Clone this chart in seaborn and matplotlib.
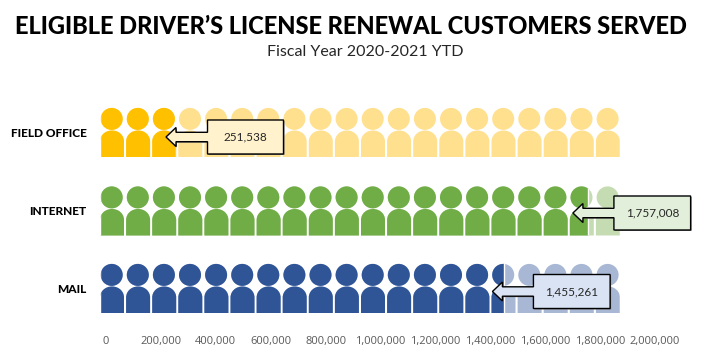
import numpy as np
import pandas as pd
import seaborn as sns
from matplotlib import pyplot as plt
from matplotlib.path import Path
from matplotlib.patches import PathPatch
from matplotlib.transforms import Affine2D

channels = ["FIELD OFFICE", "INTERNET", "MAIL"]
served = [251538, 1757008, 1455261]
# where the dark fill stops in the picture, the field office one runs past its value
fill_ends = [273700, 1757008, 1455261]
full_row = [1872500, 1872500, 1872500]
served_labels = ["251,538", "1,757,008", "1,455,261"]
tick_values = [0, 200000, 400000, 600000, 800000, 1000000, 1200000, 1400000,
               1600000, 1800000, 2000000]
tick_labels = ["0", "200,000", "400,000", "600,000", "800,000", "1,000,000", "1,200,000",
               "1,400,000", "1,600,000", "1,800,000", "2,000,000"]

dark = ["#FFC000", "#70AD47", "#2F5597"]
light = ["#FFE08F", "#C5DCB2", "#A7B7D4"]
box = ["#FFF2CC", "#E2EFDA", "#DAE3F3"]

W, H = 706, 364
# pixels from the top left, same as the reference
px = Affine2D().scale(1, -1).translate(0, H)


def person_row(top, n=20, x0=100, pitch=26.1):
    verts, codes = [], []
    for i in range(n):
        left = x0 + i * pitch
        head = Path.circle((left + 11.7, top + 10.9), 11)
        verts += list(head.vertices)
        codes += list(head.codes)
        bottom = top + 49
        neck = top + 22.5
        r = 12
        verts += [(left, bottom), (left, neck + 11),
                  (left, neck + 5), (left + 5, neck), (left + r, neck),
                  (left + 2 * r - 5, neck), (left + 2 * r, neck + 5), (left + 2 * r, neck + 11),
                  (left + 2 * r, bottom), (left, bottom)]
        codes += [Path.MOVETO, Path.LINETO,
                  Path.CURVE4, Path.CURVE4, Path.CURVE4,
                  Path.CURVE4, Path.CURVE4, Path.CURVE4,
                  Path.LINETO, Path.CLOSEPOLY]
    return Path(verts, codes)


def callout(tip_x, mid_y, box_x0, box_x1, half_h):
    head_x = tip_x + 10
    return Path([
        (tip_x, mid_y), (head_x, mid_y - 9.5), (head_x, mid_y - 4.7), (box_x0, mid_y - 4.7),
        (box_x0, mid_y - half_h), (box_x1, mid_y - half_h), (box_x1, mid_y + half_h),
        (box_x0, mid_y + half_h), (box_x0, mid_y + 4.7), (head_x, mid_y + 4.7),
        (head_x, mid_y + 9.5), (tip_x, mid_y),
    ], closed=True)


sns.set_theme(style="white")
plt.rcParams["font.family"] = ["Lato", "DejaVu Sans"]

fig = plt.figure(figsize=(W / 100, H / 100), dpi=100)
ax = fig.add_axes([100 / W, (H - 330) / H, 600 / W, 250 / H])

tab = pd.DataFrame({"channel": channels, "full": full_row, "filled": fill_ends})
sns.barplot(data=tab, y="channel", x="full", hue="channel", palette=light,
            width=0.9, legend=False, ax=ax, saturation=1)
sns.barplot(data=tab, y="channel", x="filled", hue="channel", palette=dark,
            width=0.9, legend=False, ax=ax, saturation=1)

ax.set_xlim(0, 600 / 277.7e-6)
ax.set_ylim((330 - 132.5) / 78, (80 - 132.5) / 78)
ax.set_xlabel("")
ax.set_ylabel("")
ax.set_xticks([])
ax.set_yticks(range(3))
ax.set_yticklabels(channels, fontsize=8.6, fontweight="black", color="black")
ax.tick_params(axis="y", length=0, pad=9.7)
sns.despine(ax=ax, left=True, bottom=True)

# the bars only show through the person shapes
tops = [108, 186.5, 264]
for cont in ax.containers:
    for bar in cont.patches:
        row = int(round(bar.get_y() + bar.get_height() / 2))
        bar.set_clip_path(person_row(tops[row]), px)

# tick labels sit on their own slightly narrower scale
ax2 = ax.twiny()
ax2.set_xlim(-6 / 274.5e-6, 594 / 274.5e-6)
ax2.xaxis.set_ticks_position("bottom")
ax2.set_xticks(tick_values)
ax2.set_xticklabels(tick_labels, fontsize=8, color="#595959", family="Open Sans")
ax2.tick_params(axis="x", length=0, pad=4)
sns.despine(ax=ax2, left=True, bottom=True)

# callouts hang off the end of the fill
tip_back = [10, 15, 11.7]
box_gap = [31.5, 26, 29.3]
box_w = [76, 76.7, 76.7]
mids = [137, 213, 291.5]
to_px = ax.transData + px.inverted()
for i, end in enumerate(fill_ends):
    end_x = to_px.transform((end, 0))[0]
    tip = end_x - tip_back[i]
    x0 = end_x + box_gap[i]
    shape = callout(tip, mids[i], x0, x0 + box_w[i], 17)
    ax.add_patch(PathPatch(shape, transform=Affine2D().translate(1, 1) + px, fc="#7F7F7F", ec="none",
                           clip_on=False, zorder=4))
    ax.add_patch(PathPatch(shape, transform=px, fc=box[i], ec="black", lw=1,
                           clip_on=False, zorder=5))
    fig.text((x0 + box_w[i] / 2) / W, 1 - mids[i] / H, served_labels[i], ha="center", va="center",
             fontsize=8.5, color="#262626", zorder=6)

fig.text(351 / W, 1 - 27 / H, "ELIGIBLE DRIVER’S LICENSE RENEWAL CUSTOMERS SERVED", ha="center",
         va="center", fontsize=17, fontweight="black", color="black")
fig.text(365 / W, 1 - 52 / H, "Fiscal Year 2020-2021 YTD", ha="center", va="center",
         fontsize=11.5, color="#262626")

fig.savefig("out.png", dpi=100)
